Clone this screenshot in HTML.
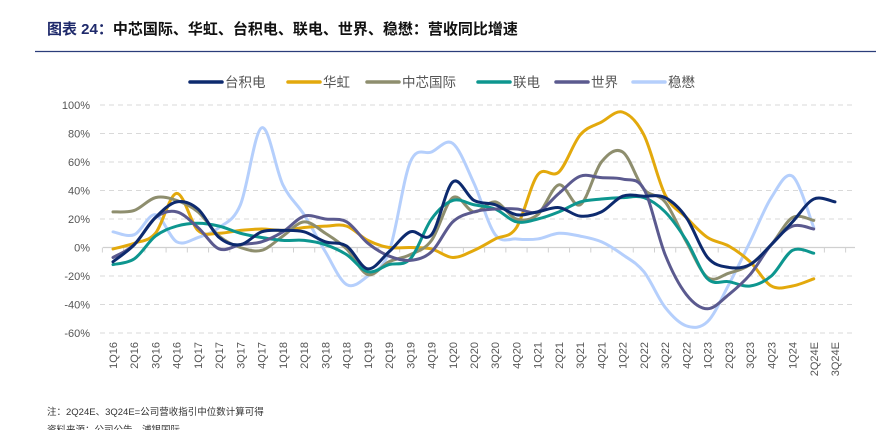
<!DOCTYPE html>
<html><head><meta charset="utf-8"><style>
body{margin:0;background:#fff;width:881px;height:430px;overflow:hidden;font-family:"Liberation Sans","Noto Sans CJK SC",sans-serif}
svg text{font-family:"Liberation Sans","Noto Sans CJK SC",sans-serif}
</style></head><body>
<svg id="chart" width="881" height="430" viewBox="0 0 881 430" xmlns="http://www.w3.org/2000/svg">
<text x="47" y="34" font-size="15" font-weight="bold"><tspan fill="#1f2a6b">图表 24：</tspan><tspan fill="#111">中芯国际、华虹、台积电、联电、世界、稳懋：营收同比增速</tspan></text>
<line x1="35" y1="51.5" x2="876" y2="51.5" stroke="#2b3d7a" stroke-width="1.2"/>
<g id="legend"></g>
<g id="grid"></g>
<g id="series"></g>
<g id="xlabels"></g>
<text x="47" y="415" font-size="9.5" fill="#333">注：2Q24E、3Q24E=公司营收指引中位数计算可得</text>
<text x="47" y="433" font-size="9.5" fill="#333">资料来源：公司公告，浦银国际</text>
</svg>
<script>
const categories=["1Q16","2Q16","3Q16","4Q16","1Q17","2Q17","3Q17","4Q17","1Q18","2Q18","3Q18","4Q18","1Q19","2Q19","3Q19","4Q19","1Q20","2Q20","3Q20","4Q20","1Q21","2Q21","3Q21","4Q21","1Q22","2Q22","3Q22","4Q22","1Q23","2Q23","3Q23","4Q23","1Q24","2Q24E","3Q24E"];
const yTicks=[100,80,60,40,20,0,-20,-40,-60];
const seriesNames=["台积电","华虹","中芯国际","联电","世界","稳懋"];
const tsmc=[-10,2,21,32,27,7,2,11,12,11,4,1,-15,-3,11,9,46,33,30,23,25,28,22,25,36,36,35,21,-7,-14,-12,2,18,34,32];
const huahong=[-1,3,10,38,12,10,12,13,12,14,15,15,5,0,0,-1,-7,-2,6,14,51,53,79,88,95,79,37,21,7,1,-10,-27,-27,-22,null];
const smic=[25,26,35,33,25,8,0,-2,8,18,10,-1,-19,-10,-5,5,35,25,32,20,23,44,30,60,67,41,32,4,-21,-18,-12,2,21,19,null];
const umc=[-12,-8,8,15,17,15,10,7,5,5,2,-5,-17,-12,-8,20,33,30,27,18,20,25,32,34,35,35,25,5,-22,-24,-27,-20,-2,-4,null];
const vis=[-7,2,21,25,14,-1,2,4,11,22,20,18,3,-6,-9,-3,18,25,27,27,25,38,50,49,48,41,-5,-33,-43,-33,-19,2,15,13,null];
const win=[11,9,23,4,7,14,30,84,44,23,-3,-26,-20,-3,60,67,73,45,9,6,6,10,8,4,-5,-17,-42,-55,-52,-26,4,35,50,14,null];
const seriesData=[tsmc,huahong,smic,umc,vis,win];
const colors=["#0d2a6e","#e3a90c","#8e8e6e","#0d968f","#5b5a8f","#b5cffc"];
const NS="http://www.w3.org/2000/svg";
const x0=113,x1=835,yTop=105,yBot=333;
function xs(i){return x0+(x1-x0)*i/(categories.length-1);}
function ys(v){return yBot-(v-(-60))/(160)*(yBot-yTop);}
function mk(t,a,p){const e=document.createElementNS(NS,t);for(const k in a)e.setAttribute(k,a[k]);p.appendChild(e);return e;}
const grid=document.getElementById('grid');
yTicks.forEach(v=>{
  const y=ys(v);
  if(v!==0){const l=mk('line',{x1:100,x2:855,y1:y,y2:y,stroke:'#d9d9d9','stroke-dasharray':'5,4','stroke-width':1},grid);
  
  }
  const t=mk('text',{x:90,y:y+4,'text-anchor':'end','font-size':11,fill:'#555'},grid);
  
  
  t.textContent=v+'%';
});
const ax=mk('line',{x1:103,x2:855,y1:ys(0),y2:ys(0),stroke:'#d0d0d0','stroke-width':1.2},grid);


const step=(x1-x0)/(categories.length-1);
for(let i=0;i<=categories.length;i++){const tx=x0-step/2+i*step;
  const tk=mk('line',{x1:tx,x2:tx,y1:ys(0),y2:ys(0)+5,stroke:'#d0d0d0'},grid);
  
  }
const xl=document.getElementById('xlabels');
categories.forEach((c,i)=>{
  const t=mk('text',{x:0,y:0,'text-anchor':'end','font-size':11,fill:'#555',transform:`translate(${xs(i)+4},342) rotate(-90)`},xl);
  
  
  t.textContent=c;
});
function pathFor(arr){
  const pts=[];arr.forEach((v,i)=>{if(v!==null)pts.push([xs(i),ys(v)]);});
  let d=`M${pts[0][0]},${pts[0][1]}`;
  for(let i=0;i<pts.length-1;i++){
    const p0=pts[Math.max(0,i-1)],p1=pts[i],p2=pts[i+1],p3=pts[Math.min(pts.length-1,i+2)];
    const t=0.17*3/3;
    const c1=[p1[0]+(p2[0]-p0[0])/6,p1[1]+(p2[1]-p0[1])/6];
    const c2=[p2[0]-(p3[0]-p1[0])/6,p2[1]-(p3[1]-p1[1])/6];
    d+=` C${c1[0]},${c1[1]} ${c2[0]},${c2[1]} ${p2[0]},${p2[1]}`;
  }
  return d;
}
const sg=document.getElementById('series');
const order=[5,1,2,3,4,0];
const snames=['series-tsmc','series-huahong','series-smic','series-umc','series-vis','series-win'];
order.forEach(k=>{
  const p=mk('path',{d:pathFor(seriesData[k]),fill:'none',stroke:colors[k],'stroke-width':3,'stroke-linejoin':'round','stroke-linecap':'round'},sg);
  
  
});
const lg=document.getElementById('legend');
const lx=[190,288,367,478,556,633];
seriesNames.forEach((n,i)=>{
  const l=mk('line',{x1:lx[i],x2:lx[i]+32,y1:82,y2:82,stroke:colors[i],'stroke-width':3.5,'stroke-linecap':'round'},lg);
  
  
  const t=mk('text',{x:lx[i]+35,y:87,'font-size':13.5,fill:'#555'},lg);
  
  
  t.textContent=n;
});
</script>
</body></html>
